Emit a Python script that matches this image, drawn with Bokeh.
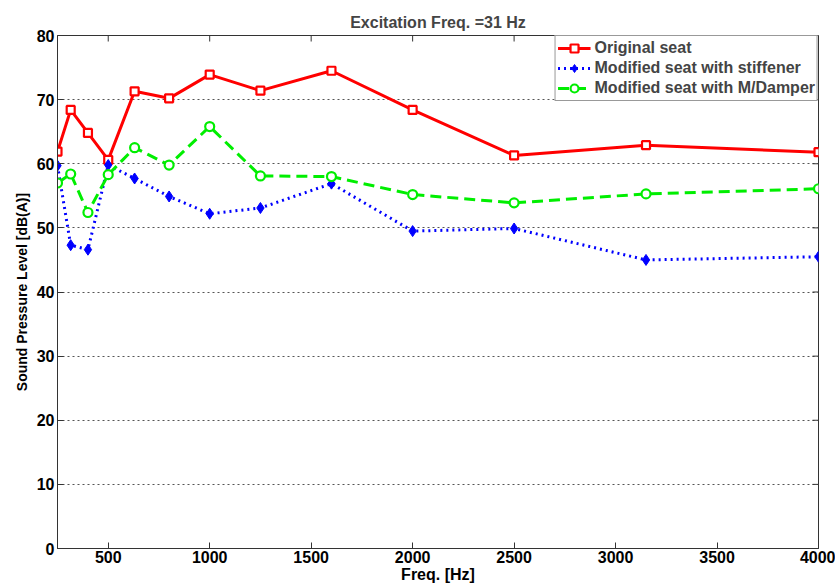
import math
from bokeh.plotting import figure
from bokeh.models import FixedTicker, Range1d, Legend
from bokeh.embed import file_html
from bokeh.resources import INLINE

freqs = [250, 315, 400, 500, 630, 800, 1000, 1250, 1600, 2000, 2500, 3150, 4000]
original_seat = [61.9, 68.4, 64.8, 60.6, 71.3, 70.2, 73.9, 71.4, 74.5, 68.4, 61.3, 62.9, 61.8]
stiffener_seat = [59.7, 47.3, 46.6, 59.8, 57.7, 54.9, 52.2, 53.1, 56.9, 49.5, 49.9, 45.0, 45.5]
damper_seat = [57.0, 58.4, 52.4, 58.3, 62.5, 59.8, 65.8, 58.1, 58.0, 55.2, 53.9, 55.3, 56.1]
x_ticks = [500, 1000, 1500, 2000, 2500, 3000, 3500, 4000]
y_ticks = [0, 10, 20, 30, 40, 50, 60, 70, 80]

FONT = "Liberation Sans"

p = figure(width=835, height=587, output_backend="svg", toolbar_location=None,
           x_range=Range1d(250, 4000), y_range=Range1d(0, 80),
           min_border_left=57, min_border_right=17, min_border_top=35, min_border_bottom=39)

p.title.text = "Excitation Freq. =31 Hz"
p.title.align = "center"
p.title.text_font = FONT
p.title.text_font_size = "16px"
p.title.text_font_style = "bold"
p.title.offset = 0

p.outline_line_color = "#333333"
p.outline_line_width = 1

for ax in (p.xaxis[0], p.yaxis[0]):
    ax.major_tick_in = 6
    ax.major_tick_out = 0
    ax.minor_tick_in = 0
    ax.minor_tick_out = 0
    ax.axis_line_color = "#333333"
    ax.major_tick_line_color = "#333333"
    ax.major_label_text_font = FONT
    ax.major_label_text_font_style = "bold"
    ax.major_label_text_font_size = "16px"
    ax.major_label_text_color = "black"
    ax.axis_label_text_font = FONT
    ax.axis_label_text_font_style = "bold"
    ax.axis_label_text_color = "black"

p.xaxis[0].ticker = FixedTicker(ticks=x_ticks)
p.yaxis[0].ticker = FixedTicker(ticks=y_ticks)
p.xaxis[0].axis_label = "Freq. [Hz]"
p.yaxis[0].axis_label = "Sound Pressure Level [dB(A)]"
p.xaxis[0].axis_label_text_font_size = "16px"
p.yaxis[0].axis_label_text_font_size = "14px"
p.xaxis[0].major_label_standoff = 2
p.yaxis[0].major_label_standoff = 3
p.xaxis[0].axis_label_standoff = 0
p.yaxis[0].axis_label_standoff = 4

p.xgrid.visible = False
p.ygrid.ticker = FixedTicker(ticks=y_ticks)
p.ygrid.grid_line_color = "#555555"
p.ygrid.grid_line_dash = "2 3"
p.ygrid.grid_line_width = 1

# mirrored ticks on the top and right edges (Matlab box style)
p.ray(x=x_ticks, y=[y_ticks[-1]] * len(x_ticks), length=6, length_units="screen",
      angle=-math.pi / 2, line_color="#333333", line_width=1)
p.ray(x=[x_ticks[-1]] * len(y_ticks), y=y_ticks, length=6, length_units="screen",
      angle=math.pi, line_color="#333333", line_width=1)

r1 = p.line(freqs, original_seat, line_color="#ff0000", line_width=3)
m1 = p.scatter(freqs, original_seat, marker="square", size=8, line_color="#ff0000",
               fill_color="white", line_width=2.2)
r2 = p.line(freqs, stiffener_seat, line_color="#0000ff", line_width=3, line_dash="2 4")
m2 = p.scatter(freqs, stiffener_seat, marker="diamond", size=11, line_color="#0000ff",
               fill_color="#0000ff", line_width=1)
r3 = p.line(freqs, damper_seat, line_color="#00ee00", line_width=3, line_dash="11 6")
m3 = p.scatter(freqs, damper_seat, marker="circle", size=9, line_color="#00ee00",
               fill_color="white", line_width=2.2)

legend = Legend(items=[("Original seat", [r1, m1]),
                       ("Modified seat with stiffener", [r2, m2]),
                       ("Modified seat with M/Damper", [r3, m3])],
                location="top_right")
legend.margin = 0
legend.padding = 2
legend.spacing = 0
legend.label_height = 20
legend.glyph_height = 20
legend.glyph_width = 33
legend.label_standoff = 4
legend.label_text_font = FONT
legend.label_text_font_style = "bold"
legend.label_text_font_size = "16px"
legend.border_line_color = "#333333"
legend.border_line_width = 1.5
legend.background_fill_alpha = 1
p.add_layout(legend)

open("out.html", "w").write(file_html(p, INLINE))
